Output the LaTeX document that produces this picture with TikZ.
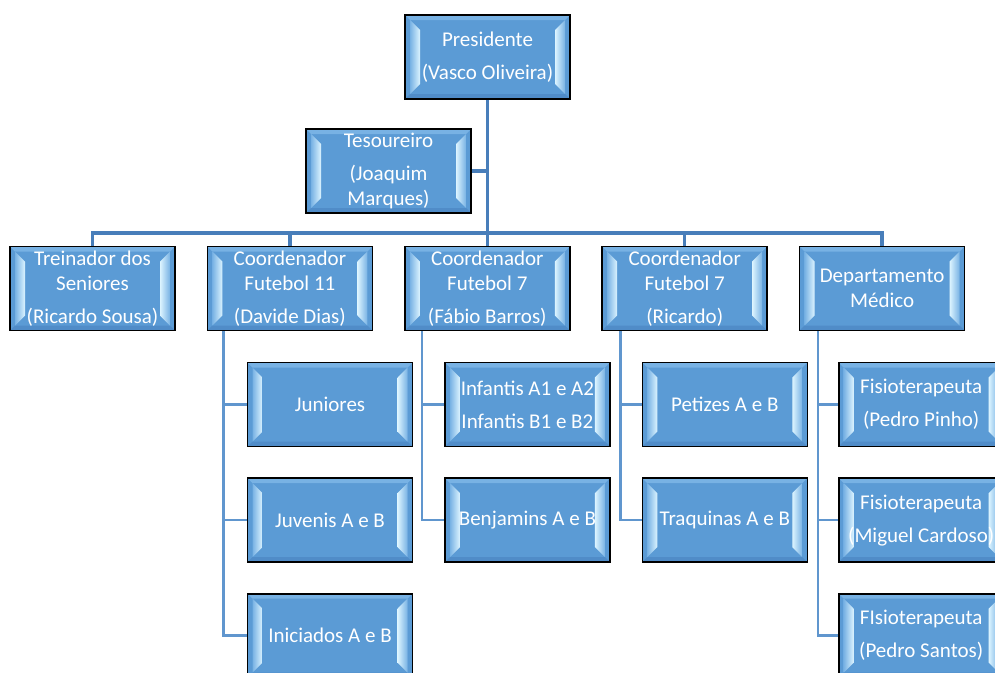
\documentclass[tikz,border=0pt]{standalone}
\usepackage{fontspec}
\setmainfont{Carlito}
\usepackage{xcolor}
\usepackage{tikz}
\usetikzlibrary{positioning,backgrounds}

\definecolor{boxblue}{RGB}{91,155,213}
\definecolor{bevelhi}{RGB}{220,244,255}
\definecolor{bevelmid}{RGB}{120,178,228}
\definecolor{bevellow}{RGB}{80,140,200}
\definecolor{trunkblue}{RGB}{72,126,186}
\definecolor{twigblue}{RGB}{96,150,206}

\begin{document}
\begin{tikzpicture}[
    x=1pt, y=-1pt,
    org_box/.style={draw=black, line width=1.6pt, fill=boxblue, text=white,
      minimum width=165pt, minimum height=84pt, inner sep=1pt, align=center,
      font=\fontsize{21}{24.5}\selectfont,
      path picture={
        \path (path picture bounding box.north west) coordinate (pnw)
              (path picture bounding box.north east) coordinate (pne)
              (path picture bounding box.south west) coordinate (psw)
              (path picture bounding box.south east) coordinate (pse);
        \fill[bevelmid] (pnw) -- (pne) -- ([xshift=-5pt,yshift=-5pt]pne) -- ([xshift=5pt,yshift=-5pt]pnw) -- cycle;
        \fill[bevellow] (psw) -- (pse) -- ([xshift=-5pt,yshift=5pt]pse) -- ([xshift=5pt,yshift=5pt]psw) -- cycle;
        \shade[left color=bevelmid, right color=bevelhi]
          ([xshift=5pt,yshift=-5pt]pnw) -- ([xshift=15pt,yshift=-15pt]pnw) -- ([xshift=15pt,yshift=15pt]psw) -- ([xshift=5pt,yshift=5pt]psw) -- cycle;
        \shade[left color=bevelhi, right color=bevelmid]
          ([xshift=-15pt,yshift=-15pt]pne) -- ([xshift=-5pt,yshift=-5pt]pne) -- ([xshift=-5pt,yshift=5pt]pse) -- ([xshift=-15pt,yshift=15pt]pse) -- cycle;
      }},
    trunk/.style={draw=trunkblue, line width=3.5pt},
    twig/.style={draw=twigblue, line width=2.6pt}
]
\useasboundingbox (0,0) rectangle (995,672);
\clip (0,0) rectangle (995,672);

% top
\node (pres) [org_box] at (487.5,57) {Presidente\\[8.5pt](Vasco Oliveira)};
\node (tes)  [org_box] at (388.5,171) {Tesoureiro\\[8.5pt](Joaquim\\Marques)};

% second row
\node (sen)  [org_box] at (92.5,288.5) {Treinador dos\\Seniores\\[8.5pt](Ricardo Sousa)};
\node (f11)  [org_box, right=30.8pt of sen] {Coordenador\\Futebol 11\\[8.5pt](Davide Dias)};
\node (f7a)  [org_box, right=30.8pt of f11] {Coordenador\\Futebol 7\\[8.5pt](Fábio Barros)};
\node (f7b)  [org_box, right=30.8pt of f7a] {Coordenador\\Futebol 7\\[8.5pt](Ricardo)};
\node (med)  [org_box, right=30.8pt of f7b] {Departamento\\Médico};

% teams and staff
\node (jun)  [org_box] at (330,404.5) {Juniores};
\node (juv)  [org_box, below=30pt of jun] {Juvenis A e B};
\node (ini)  [org_box, below=30pt of juv] {Iniciados A e B};
\node (inf)  [org_box, right=30.8pt of jun] {Infantis A1 e A2\\[8.5pt]Infantis B1 e B2};
\node (ben)  [org_box, below=30pt of inf] {Benjamins A e B};
\node (pet)  [org_box, right=30.8pt of inf] {Petizes A e B};
\node (tra)  [org_box, below=30pt of pet] {Traquinas A e B};
\node (fis1) [org_box, right=29.8pt of pet] {Fisioterapeuta\\[8.5pt](Pedro Pinho)};
\node (fis2) [org_box, below=30pt of fis1] {Fisioterapeuta\\[8.5pt](Miguel Cardoso)};
\node (fis3) [org_box, below=30pt of fis2] {FIsioterapeuta\\[8.5pt](Pedro Santos)};

\begin{scope}[on background layer]
  \coordinate (bar) at (487,233);
  \draw [trunk] (pres.south) -- (pres.south |- bar);
  \draw [trunk] (tes.east) -- (tes.east -| pres.south);
  \draw [trunk] (sen.north) -- (sen.north |- bar) -| (med.north);
  \foreach \n in {f11,f7a,f7b}
    \draw [trunk] (\n.north) -- (\n.north |- bar);

  \coordinate (b11) at ([xshift=17pt]f11.south west);
  \coordinate (b7a) at ([xshift=18pt]f7a.south west);
  \coordinate (b7b) at ([xshift=19pt]f7b.south west);
  \coordinate (bmd) at ([xshift=19pt]med.south west);
  \draw [twig] (b11) |- (ini.west);
  \draw [twig] (b11 |- jun.west) -- (jun.west);
  \draw [twig] (b11 |- juv.west) -- (juv.west);
  \draw [twig] (b7a) |- (ben.west);
  \draw [twig] (b7a |- inf.west) -- (inf.west);
  \draw [twig] (b7b) |- (tra.west);
  \draw [twig] (b7b |- pet.west) -- (pet.west);
  \draw [twig] (bmd) |- (fis3.west);
  \draw [twig] (bmd |- fis1.west) -- (fis1.west);
  \draw [twig] (bmd |- fis2.west) -- (fis2.west);
\end{scope}
\end{tikzpicture}
\end{document}
